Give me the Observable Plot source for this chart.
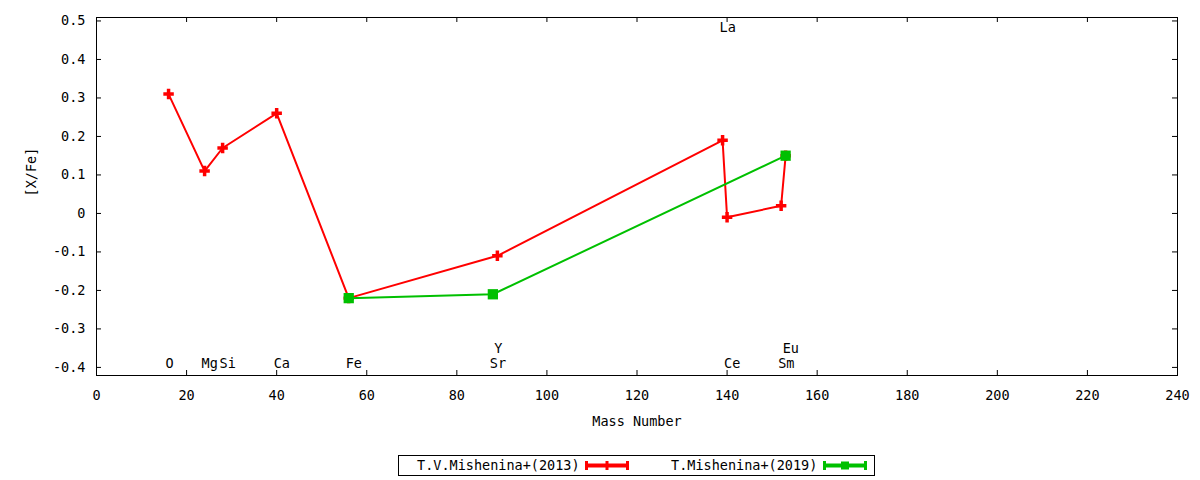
<!DOCTYPE html>
<html><head><meta charset="utf-8">
<script src="https://cdn.jsdelivr.net/npm/d3@7"></script>
<script src="https://cdn.jsdelivr.net/npm/@observablehq/plot@0.6"></script>
<style>
body{margin:0;background:#fff;font-family:"DejaVu Sans Mono",monospace;}
#wrap{position:relative;width:1200px;height:480px;background:#fff;}
#legend{position:absolute;left:398px;top:455px;width:475px;height:19px;border:1px solid #000;font-size:13.5px;color:#000;}
#legend .item{position:absolute;top:0;height:19px;line-height:19px;white-space:nowrap;}
#legend svg{position:absolute;top:0;}
</style></head><body><div id="wrap"></div>
<script>
// ---- data ----
const massRed = [16, 24, 28, 40, 56, 89, 139, 140, 152, 153];
const valueRed = [0.31, 0.11, 0.17, 0.26, -0.22, -0.11, 0.19, -0.01, 0.02, 0.15];
const massGreen = [56, 88, 153];
const valueGreen = [-0.22, -0.21, 0.15];
const elementNames = ["O", "Mg", "Si", "Ca", "Fe", "Sr", "Y", "La", "Ce", "Sm", "Eu"];
const elementMass = [16, 24, 28, 40, 56, 88, 89, 139, 140, 152, 153];
const elementLabelY = [-0.39, -0.39, -0.39, -0.39, -0.39, -0.39, -0.352, 0.482, -0.39, -0.39, -0.352];
const xTicks = [0, 20, 40, 60, 80, 100, 120, 140, 160, 180, 200, 220, 240];
const yTicks = [-0.4, -0.3, -0.2, -0.1, 0, 0.1, 0.2, 0.3, 0.4, 0.5];
const seriesNames = ["T.V.Mishenina+(2013)", "T.Mishenina+(2019)"];
const seriesColors = ["#ff0000", "#00c000"];
const xLabel = "Mass Number";
const yLabel = "[X/Fe]";

// ---- tables ----
const redData = massRed.map((m, i) => ({mass: m, value: valueRed[i]}));
const greenData = massGreen.map((m, i) => ({mass: m, value: valueGreen[i]}));
const labelData = elementNames.map((n, i) => ({name: n, mass: elementMass[i], y: elementLabelY[i]}));

const W = 1200, H = 440, mL = 96, mR = 23, mT = 17, mB = 65;
const plotW = W - mL - mR, plotH = H - mT - mB;
const tick = 5;

const chart = Plot.plot({
  width: W, height: H,
  marginLeft: mL, marginRight: mR, marginTop: mT, marginBottom: mB,
  style: {fontFamily: "DejaVu Sans Mono", fontSize: "13.5px", background: "white", color: "black"},
  x: {domain: [0, 240]},
  y: {domain: [-0.421, 0.509]},
  marks: [
    Plot.frame({stroke: "black", strokeWidth: 1}),
    // inward ticks (mirrored on all sides)
    Plot.tickX(xTicks, {x: d => d, insetTop: plotH - tick, stroke: "black"}),
    Plot.tickX(xTicks, {x: d => d, insetBottom: plotH - tick, stroke: "black"}),
    Plot.tickY(yTicks, {y: d => d, insetRight: plotW - tick, stroke: "black"}),
    Plot.tickY(yTicks, {y: d => d, insetLeft: plotW - tick, stroke: "black"}),
    Plot.axisX({anchor: "bottom", ticks: xTicks, tickSize: 0, tickPadding: 15, tickFormat: d => String(d), label: null}),
    Plot.axisY({anchor: "left", ticks: yTicks, tickSize: 0, tickPadding: 11, tickFormat: d => String(d), label: null}),
    Plot.text([xLabel], {text: d => d, frameAnchor: "bottom", dy: 50}),
    Plot.text([yLabel], {text: d => d, frameAnchor: "left", dx: -65, rotate: -90}),
    // element labels
    Plot.text(labelData, {x: "mass", y: "y", text: "name", textAnchor: "start", dx: -3, fill: "black"}),
    // series 1
    Plot.line(redData, {x: "mass", y: "value", stroke: seriesColors[0], strokeWidth: 2}),
    Plot.dot(redData, {x: "mass", y: "value", symbol: "cross", r: 4.4, fill: seriesColors[0], stroke: "none"}),
    // series 2
    Plot.line(greenData, {x: "mass", y: "value", stroke: seriesColors[1], strokeWidth: 2}),
    Plot.dot(greenData, {x: "mass", y: "value", symbol: "square", r: 5.8, fill: seriesColors[1], stroke: "none"})
  ]
});

const wrap = document.getElementById("wrap");
wrap.appendChild(chart);

// ---- legend (gnuplot-style key below the chart) ----
const legend = document.createElement("div");
legend.id = "legend";
const textLefts = [18, 272];
const sampleLefts = [186, 424];
function sample(color, isSquare) {
  return `<svg width="46" height="19" viewBox="0 0 46 19">
    <line x1="1.5" y1="9.5" x2="42.5" y2="9.5" stroke="${color}" stroke-width="4"/>
    <line x1="1.5" y1="5" x2="1.5" y2="14" stroke="${color}" stroke-width="3"/>
    <line x1="42.5" y1="5" x2="42.5" y2="14" stroke="${color}" stroke-width="3"/>
    ${isSquare
      ? `<rect x="18" y="5.5" width="8" height="8" fill="${color}"/>`
      : `<rect x="20.5" y="5" width="3" height="9" fill="${color}"/>`}
  </svg>`;
}
seriesNames.forEach((name, i) => {
  const t = document.createElement("div");
  t.className = "item";
  t.style.left = textLefts[i] + "px";
  t.textContent = name;
  legend.appendChild(t);
  const sw = document.createElement("div");
  sw.className = "item";
  sw.style.left = sampleLefts[i] + "px";
  sw.style.width = "46px";
  sw.innerHTML = sample(seriesColors[i], i === 1);
  legend.appendChild(sw);
});
wrap.appendChild(legend);
</script>
</body></html>
